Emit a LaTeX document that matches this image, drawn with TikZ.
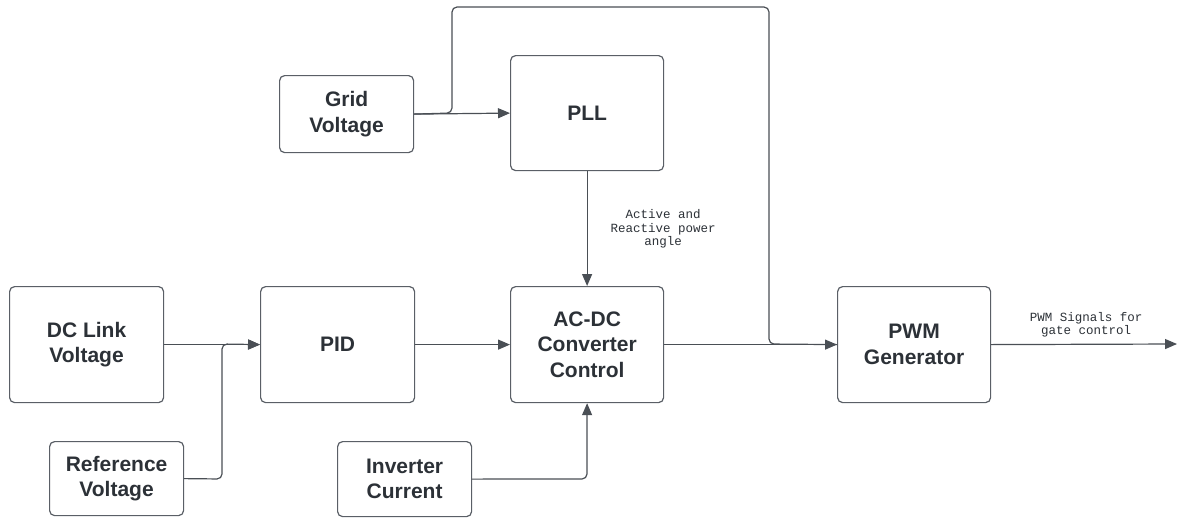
\documentclass[tikz,border=0pt]{standalone}
\usepackage{fontspec}
\setmainfont{Liberation Sans}
\newfontfamily\monofnt{Liberation Mono}
\usetikzlibrary{arrows.meta}
\definecolor{boxline}{HTML}{5A5F66}
\definecolor{txt}{HTML}{2C3137}
\definecolor{wire}{HTML}{4A4F55}
\tikzset{
  blk/.style={draw=boxline, line width=1.2pt, rounded corners=5pt, fill=white,
    align=center, text=txt, font=\fontsize{21}{25.5}\selectfont\bfseries,
    inner sep=0pt, anchor=north west},
  wirel/.style={draw=wire, line width=1.2pt, rounded corners=5pt},
  arr/.style={wirel, -{Triangle[length=12pt,width=10pt]}},
  lbl/.style={text=txt, font=\monofnt\fontsize{12.5}{13.5}\selectfont, align=center, inner sep=0pt}
}
\begin{document}
\begin{tikzpicture}[x=1pt,y=-1pt]
\useasboundingbox (0,0) rectangle (1177,517);
\node[blk, minimum width=134pt, minimum height=77pt] (grid) at (279,75) {Grid\\Voltage};
\node[blk, minimum width=153pt, minimum height=115pt] (pll) at (510,55) {PLL};
\node[blk, minimum width=154pt, minimum height=116pt] (dc) at (9,286) {DC Link\\Voltage};
\node[blk, minimum width=154pt, minimum height=116pt] (pid) at (260,286) {PID};
\node[blk, minimum width=153pt, minimum height=116pt] (acdc) at (510,286) {AC-DC\\Converter\\Control};
\node[blk, minimum width=153pt, minimum height=116pt] (pwm) at (837,286) {PWM\\Generator};
\node[blk, minimum width=134pt, minimum height=74pt] (ref) at (49,441) {Reference\\Voltage};
\node[blk, minimum width=134pt, minimum height=75pt] (inv) at (337,441) {Inverter\\Current};
\coordinate (out) at (1177,344);
\coordinate (g1) at (452,113);
\coordinate (g2) at (452,7);
\coordinate (g3) at (769,7);
\coordinate (g4) at (769,344);
\coordinate (r1) at (222,479);
\coordinate (r2) at (222,344);
\coordinate (i1) at (587,479);
% connectors
\draw[arr] (grid.east) -- (pll.west);
\draw[wirel] (grid.east) -- (g1) -- (g2) -- (g3) -- (g4) -- (pwm.west);
\draw[arr] (dc.east) -- (pid.west);
\draw[arr] (ref.east) -- (r1) -- (r2) -- (pid.west);
\draw[arr] (pid.east) -- (acdc.west);
\draw[arr] (pll.south) -- (acdc.north);
\draw[arr] (inv.east) -- (i1) -- (acdc.south);
\draw[arr] (acdc.east) -- (pwm.west);
\draw[arr] (pwm.east) -- (out);
\node[lbl] (l1) at (663,229) {Active and\\Reactive power\\angle};
\node[lbl] (l2) at (1086,325) {PWM Signals for\\gate control};
\end{tikzpicture}
\end{document}
